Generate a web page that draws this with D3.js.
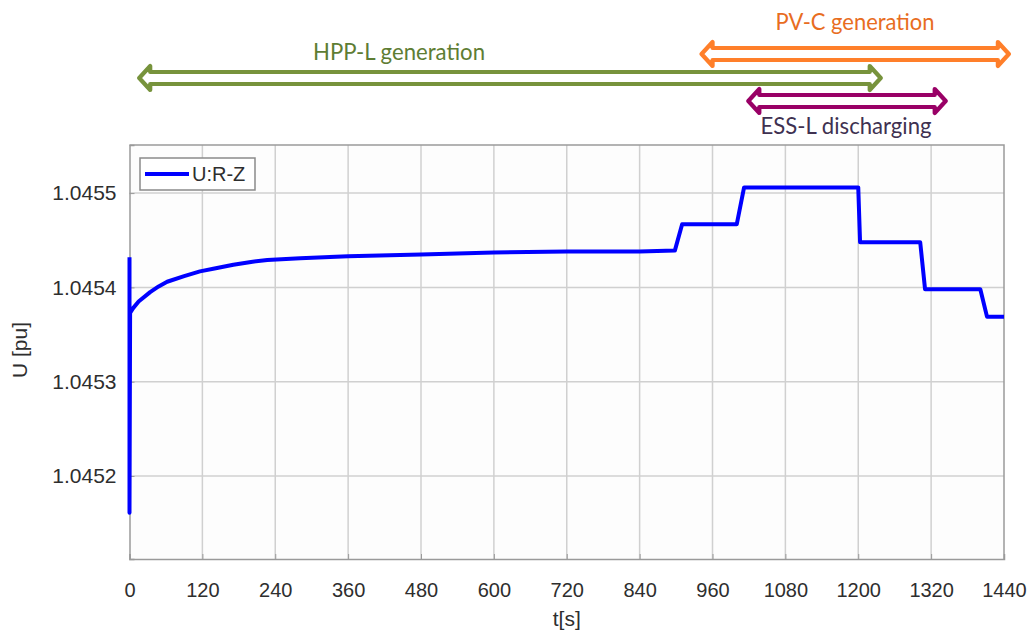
<!DOCTYPE html>
<html>
<head>
<meta charset="utf-8">
<script src="https://cdn.jsdelivr.net/npm/d3@7"></script>
<style>
  body { margin: 0; background: #fff; }
  text { font-family: "Liberation Sans", Arial, sans-serif; }
</style>
</head>
<body>
<div id="chart"></div>
<script>
// time [s] and voltage [pu]
const tSec = [0, 0, 1, 6, 15, 34, 48, 62, 90, 116, 140, 171, 200, 227, 281, 360, 480, 600, 720, 840, 898,
              910, 1000, 1012, 1200, 1203, 1302, 1310, 1401, 1412, 1440];
const uPu = [1.045432, 1.045161, 1.045373, 1.045378, 1.045385, 1.045395, 1.045401, 1.045406, 1.045412,
             1.045417, 1.04542, 1.045424, 1.045427, 1.045429, 1.045431, 1.045433, 1.045435, 1.045437,
             1.045438, 1.045438, 1.045439,
             1.045467, 1.045467, 1.045506, 1.045506, 1.045448, 1.045448, 1.045398, 1.045398,
             1.045369, 1.045369];

const xTicks = [0, 120, 240, 360, 480, 600, 720, 840, 960, 1080, 1200, 1320, 1440];
const yTicks = [1.0452, 1.0453, 1.0454, 1.0455];

// annotation arrows above the plot (start/end in seconds)
const arrowNames = ["PV-C generation", "HPP-L generation", "ESS-L discharging"];
const arrowStart = [942, 16, 1019];
const arrowEnd = [1448, 1237, 1344];

const W = 1032, H = 632;
const margin = { top: 145, right: 28, bottom: 73, left: 129.5 };

const svg = d3.select("#chart").append("svg")
    .attr("width", W)
    .attr("height", H);

svg.append("rect").attr("width", W).attr("height", H).attr("fill", "#fff");

const x = d3.scaleLinear()
    .domain([0, 1440])
    .range([margin.left, W - margin.right]);

const y = d3.scaleLinear()
    .domain([1.045112, 1.045551])
    .range([H - margin.bottom, margin.top]);

// plot background
svg.append("rect")
    .attr("x", x(0)).attr("y", y.range()[1])
    .attr("width", x(1440) - x(0))
    .attr("height", y.range()[0] - y.range()[1])
    .attr("fill", "#fdfdfd");

// grid
svg.append("g")
    .attr("stroke", "#d0d0d0")
    .attr("stroke-width", 1.5)
    .selectAll("line")
    .data(xTicks.slice(1, -1))
    .join("line")
    .attr("x1", d => x(d)).attr("x2", d => x(d))
    .attr("y1", y.range()[0]).attr("y2", y.range()[1]);

svg.append("g")
    .attr("stroke", "#d0d0d0")
    .attr("stroke-width", 1.5)
    .selectAll("line")
    .data(yTicks)
    .join("line")
    .attr("x1", x(0)).attr("x2", x(1440))
    .attr("y1", d => y(d)).attr("y2", d => y(d));

// axes
const xAxis = g => g
    .attr("transform", `translate(0,${y.range()[0]})`)
    .call(d3.axisBottom(x).tickValues(xTicks).tickFormat(d3.format("d")).tickSize(-5).tickPadding(24))
    .call(g => g.select(".domain").attr("stroke", "#9a9a9a").attr("stroke-width", 1.5))
    .call(g => g.selectAll(".tick line").attr("stroke", "#9a9a9a"))
    .call(g => g.selectAll(".tick text")
        .attr("fill", "#2e2e2e")
        .style("font-family", "'Liberation Sans', Arial, sans-serif")
        .style("font-size", "20px"));

const yAxis = g => g
    .attr("transform", `translate(${x(0)},0)`)
    .call(d3.axisLeft(y).tickValues(yTicks).tickFormat(d3.format(".4f")).tickSize(-5).tickPadding(13))
    .call(g => g.select(".domain").attr("stroke", "#9a9a9a").attr("stroke-width", 1.5))
    .call(g => g.selectAll(".tick line").attr("stroke", "#9a9a9a"))
    .call(g => g.selectAll(".tick text")
        .attr("fill", "#2e2e2e")
        .style("font-family", "'Liberation Sans', Arial, sans-serif")
        .style("font-size", "21px"));

svg.append("g").call(xAxis);
svg.append("g").call(yAxis);

// top and right frame
svg.append("path")
    .attr("d", `M${x(0)},${y.range()[1]}H${x(1440)}V${y.range()[0]}`)
    .attr("fill", "none")
    .attr("stroke", "#9a9a9a")
    .attr("stroke-width", 1.5);

// the voltage trace
const line = d3.line()
    .x((d, i) => x(tSec[i]))
    .y(d => y(d));

svg.append("path")
    .datum(uPu)
    .attr("fill", "none")
    .attr("stroke", "#0000ff")
    .attr("stroke-width", 4)
    .attr("stroke-linejoin", "round")
    .attr("d", line);

// axis titles
svg.append("text")
    .attr("x", x(720))
    .attr("y", 626)
    .attr("text-anchor", "middle")
    .attr("fill", "#2e2e2e")
    .style("font-size", "21px")
    .text("t[s]");

svg.append("text")
    .attr("transform", "translate(27,350) rotate(-90)")
    .attr("text-anchor", "middle")
    .attr("fill", "#2e2e2e")
    .style("font-size", "21px")
    .text("U [pu]");

// legend
const leg = svg.append("g");
leg.append("rect")
    .attr("x", 140).attr("y", 158)
    .attr("width", 115).attr("height", 32)
    .attr("fill", "#fff")
    .attr("stroke", "#8a8a8a")
    .attr("stroke-width", 1.5);
leg.append("line")
    .attr("x1", 145).attr("x2", 189)
    .attr("y1", 174).attr("y2", 174)
    .attr("stroke", "#0000ff")
    .attr("stroke-width", 4);
leg.append("text")
    .attr("x", 192).attr("y", 181)
    .attr("fill", "#2e2e2e")
    .style("font-size", "20px")
    .text("U:R-Z");

// annotation arrows
const arrowY = [54, 78, 101];
const arrowColor = ["#ff7f2a", "#77933c", "#990066"];
const labelColor = ["#e86d1f", "#5e7d33", "#3f3151"];
const labelX = [855, 399, 846];
const labelY = [30, 60, 134];
const labelLen = [159, 172, 171];

function arrowPath(x1, x2, yc) {
    const h = 6, hh = 12, L = 11;
    return `M${x1},${yc}L${x1 + L},${yc - hh}L${x1 + L},${yc - h}L${x2 - L},${yc - h}` +
        `L${x2 - L},${yc - hh}L${x2},${yc}L${x2 - L},${yc + hh}L${x2 - L},${yc + h}` +
        `L${x1 + L},${yc + h}L${x1 + L},${yc + hh}Z`;
}

const ann = svg.append("g");
// green first so the others sit on top of it
[1, 0, 2].forEach(i => {
    ann.append("path")
        .attr("d", arrowPath(x(arrowStart[i]), x(arrowEnd[i]), arrowY[i]))
        .attr("fill", "#fff")
        .attr("stroke", arrowColor[i])
        .attr("stroke-width", 4.2)
        .attr("stroke-linejoin", "round");
    ann.append("text")
        .attr("x", labelX[i])
        .attr("y", labelY[i])
        .attr("text-anchor", "middle")
        .attr("fill", labelColor[i])
        .attr("textLength", labelLen[i])
        .attr("lengthAdjust", "spacingAndGlyphs")
        .style("font-family", "Lato, 'Open Sans', sans-serif")
        .style("font-size", "23px")
        .text(arrowNames[i]);
});
</script>
</body>
</html>
